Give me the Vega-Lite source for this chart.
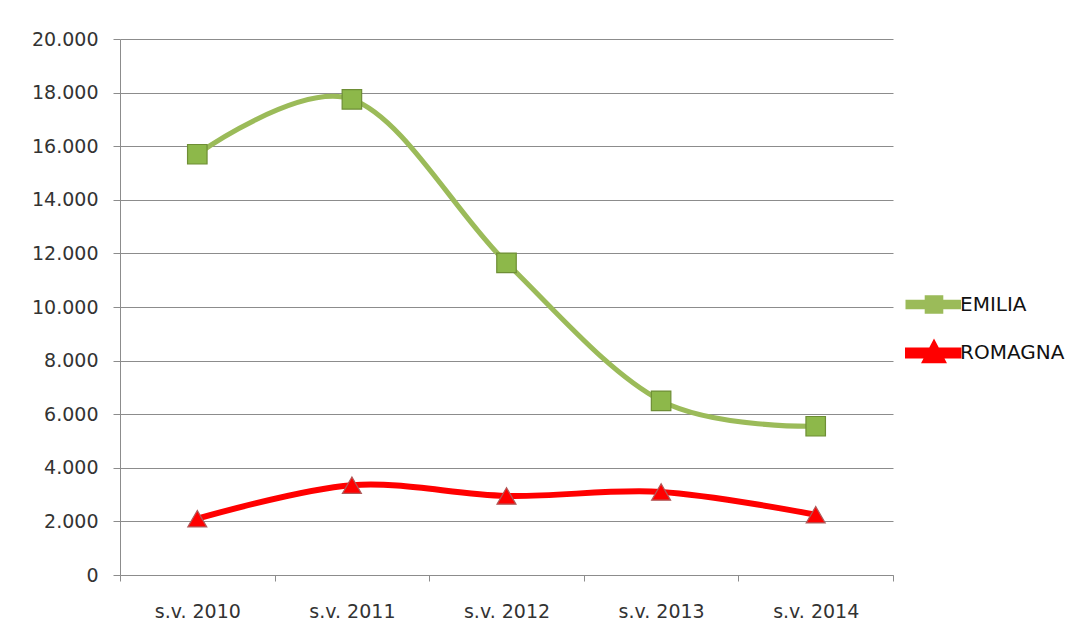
{
  "$schema": "https://vega.github.io/schema/vega-lite/v6.json",
  "autosize": {"type": "none"},
  "width": 773,
  "height": 536,
  "padding": {"left": 120, "top": 39, "right": 179, "bottom": 68},
  "background": "white",
  "config": {
    "view": {"stroke": null},
    "font": "DejaVu Sans",
    "axis": {"labelFont": "DejaVu Sans", "labelFontSize": 19, "labelColor": "#333333"},
    "legend": {"labelFont": "DejaVu Sans", "labelFontSize": 20, "labelColor": "#111111"}
  },
  "data": {
    "values": [
      {"anno": "s.v. 2010", "serie": "EMILIA", "valore": 15700},
      {"anno": "s.v. 2011", "serie": "EMILIA", "valore": 17750},
      {"anno": "s.v. 2012", "serie": "EMILIA", "valore": 11650},
      {"anno": "s.v. 2013", "serie": "EMILIA", "valore": 6500},
      {"anno": "s.v. 2014", "serie": "EMILIA", "valore": 5550},
      {"anno": "s.v. 2010", "serie": "ROMAGNA", "valore": 2100},
      {"anno": "s.v. 2011", "serie": "ROMAGNA", "valore": 3350},
      {"anno": "s.v. 2012", "serie": "ROMAGNA", "valore": 2950},
      {"anno": "s.v. 2013", "serie": "ROMAGNA", "valore": 3100},
      {"anno": "s.v. 2014", "serie": "ROMAGNA", "valore": 2250}
    ]
  },
  "encoding": {
    "x": {
      "field": "anno", "type": "nominal", "title": null,
      "scale": {"type": "band", "paddingInner": 0, "paddingOuter": 0},
      "axis": {
        "labelAngle": 0, "tickBand": "extent", "tickSize": 6, "labelPadding": 21,
        "domainColor": "#8c8c8c", "tickColor": "#8c8c8c", "grid": false
      }
    },
    "y": {
      "field": "valore", "type": "quantitative", "title": null,
      "scale": {"domain": [0, 20000], "nice": false},
      "axis": {
        "values": [0, 2000, 4000, 6000, 8000, 10000, 12000, 14000, 16000, 18000, 20000],
        "labelExpr": "replace(format(datum.value, ','), ',', '.')",
        "tickSize": 7, "labelPadding": 15,
        "domainColor": "#8c8c8c", "tickColor": "#8c8c8c",
        "grid": true, "gridColor": "#8c8c8c", "gridWidth": 1
      }
    }
  },
  "layer": [
    {
      "transform": [{"filter": "datum.valore < 0"}],
      "mark": {"type": "point", "filled": true, "strokeWidth": 0, "opacity": 1},
      "encoding": {
        "fill": {
          "field": "serie", "type": "nominal",
          "scale": {"domain": ["EMILIA", "ROMAGNA"], "range": ["#8DB84A", "#FF0000"]},
          "legend": {
            "title": null, "orient": "none", "legendX": 801, "legendY": 253,
            "symbolSize": 400, "labelOffset": 13, "rowPadding": 11,
            "symbolStrokeWidth": 0
          }
        },
        "shape": {
          "field": "serie", "type": "nominal",
          "scale": {
            "domain": ["EMILIA", "ROMAGNA"],
            "range": [
              "M-2.6,-0.22H2.45V0.22H-2.6Z M-0.68,-0.68H0.68V0.68H-0.68Z",
              "M-2.6,-0.25H2.45V0.25H-2.6Z M0,-0.8L0.8,0.72H-0.8Z"
            ]
          },
          "legend": {
            "title": null, "orient": "none", "legendX": 801, "legendY": 253,
            "symbolSize": 400, "labelOffset": 13, "rowPadding": 11,
            "symbolStrokeWidth": 0
          }
        }
      }
    },
    {
      "mark": {"type": "line", "interpolate": "cardinal"},
      "encoding": {
        "color": {
          "field": "serie", "type": "nominal", "legend": null,
          "scale": {"domain": ["EMILIA", "ROMAGNA"], "range": ["#9BBB59", "#FF0000"]}
        },
        "strokeWidth": {
          "field": "serie", "type": "nominal", "legend": null,
          "scale": {"domain": ["EMILIA", "ROMAGNA"], "range": [5, 6]}
        }
      }
    },
    {
      "transform": [{"filter": "datum.serie === 'EMILIA'"}],
      "mark": {"type": "point", "shape": "square", "size": 380, "filled": true, "opacity": 1,
               "fill": "#8DB84A", "stroke": "#6E8E35", "strokeWidth": 1.2}
    },
    {
      "transform": [{"filter": "datum.serie === 'ROMAGNA'"}],
      "mark": {"type": "point", "shape": "triangle-up", "size": 360, "filled": true, "opacity": 1,
               "fill": "#FF0000", "stroke": "#B05A5A", "strokeWidth": 1.2}
    }
  ]
}
